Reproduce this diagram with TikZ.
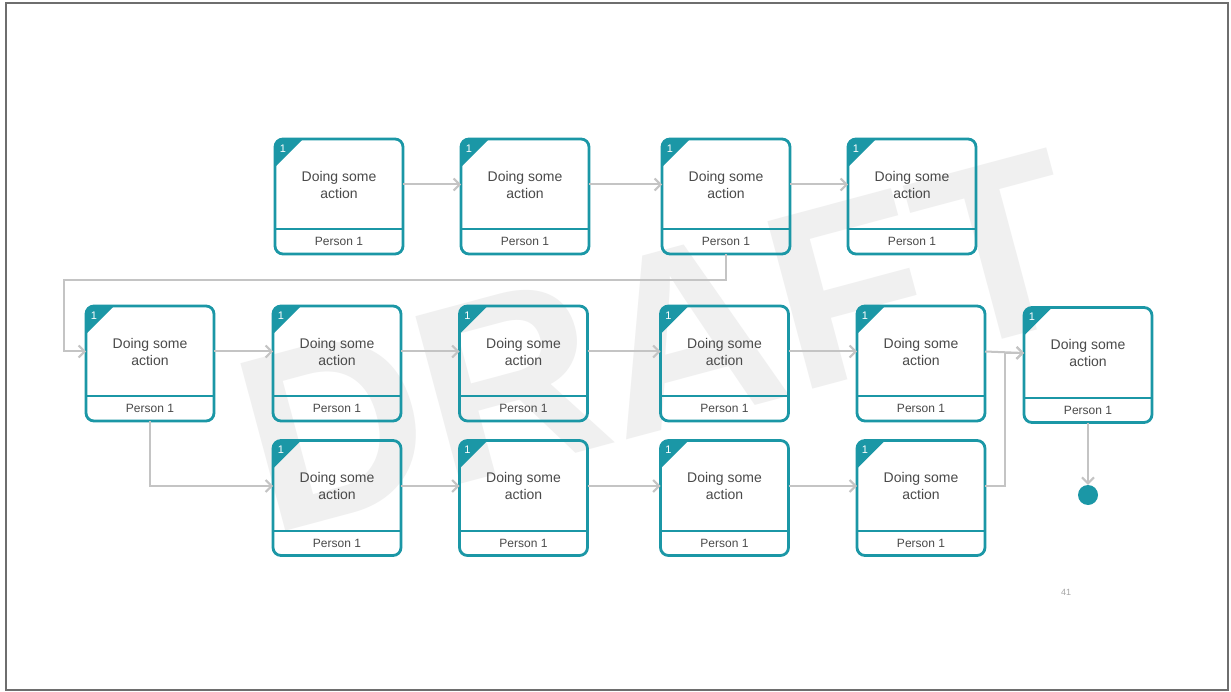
\documentclass[tikz,border=0pt]{standalone}
\usepackage{fontspec}
\setmainfont{Liberation Sans}
\usetikzlibrary{arrows.meta,calc}

\definecolor{acttl}{HTML}{1B97A6}
\definecolor{flowgray}{HTML}{C4C4C4}
\definecolor{textgray}{HTML}{4A4A4A}
\definecolor{framegray}{HTML}{6E6E6E}
\definecolor{wmgray}{HTML}{F0F0F0}

\tikzset{
  x=1pt, y=-1pt,
  boxframe/.style={draw=acttl, line width=2.8pt, rounded corners=8pt,
    minimum width=128pt, minimum height=115pt, inner sep=0pt},
  divider/.style={draw=acttl, line width=2pt},
  cornernum/.style={text=white, font=\fontsize{11}{11}\selectfont, inner sep=0pt},
  actlabel/.style={align=center, text=textgray, font=\fontsize{14}{17}\selectfont, inner sep=0pt},
  personlabel/.style={text=textgray, font=\fontsize{12}{12}\selectfont, inner sep=0pt},
  flow/.style={draw=flowgray, line width=2pt, -{Straight Barb[length=6pt,width=12pt]}},
  endnode/.style={circle, fill=acttl, minimum size=20pt, inner sep=0pt},
  actbox/.pic={
    \begin{scope}
      \clip[rounded corners=8pt] (-64,-57.5) rectangle (64,57.5);
      \fill[acttl] (-64,-57.5) -- (-36,-57.5) -- (-64,-29.5) -- cycle;
    \end{scope}
    \node[boxframe] (-box) at (0,0) {};
    \draw[divider] (-64,32.5) -- (64,32.5);
    \node[cornernum] (-num) at (-56,-48) {1};
    \node[actlabel] (-txt) at (0,-12) {Doing some\\action};
    \node[personlabel] (-who) at (0,45) {Person 1};
    \coordinate (-w) at (-64,-12);
    \coordinate (-e) at (64,-12);
    \coordinate (-s) at (0,57.5);
  }
}

\begin{document}
\begin{tikzpicture}
\useasboundingbox (0,0) rectangle (1231,692);
\fill[white] (0,0) rectangle (1231,692);

% watermark
\node[rotate=15, text=wmgray, inner sep=0pt,
      font=\fontsize{252}{252}\selectfont\bfseries] (wm) at (659,341) {DRAFT};

% page frame
\draw[framegray, line width=2pt] (6,3.5) rectangle (1228,690);

% first row
\pic (r1c1) at (339,196.5) {actbox};
\pic (r1c2) at (525,196.5) {actbox};
\pic (r1c3) at (726,196.5) {actbox};
\pic (r1c4) at (912,196.5) {actbox};

% second row
\pic (r2c1) at (150,363.5) {actbox};
\pic (r2c2) at (337,363.5) {actbox};
\pic (r2c3) at (523.5,363.5) {actbox};
\pic (r2c4) at (724.5,363.5) {actbox};
\pic (r2c5) at (921,363.5) {actbox};

% final step
\pic (fin) at (1088,365) {actbox};

% third row
\pic (r3c1) at (337,498) {actbox};
\pic (r3c2) at (523.5,498) {actbox};
\pic (r3c3) at (724.5,498) {actbox};
\pic (r3c4) at (921,498) {actbox};

% end marker and page number
\node[endnode] (end) at (1088,495) {};
\node[text=gray!70, font=\fontsize{9}{9}\selectfont] (pageno) at (1066,592) {41};

% routing helpers
\coordinate (loopcorner) at (64,280);
\coordinate (merge) at (1005,0);

% connectors
\draw[flow] (r1c1-e) -- (r1c2-w);
\draw[flow] (r1c2-e) -- (r1c3-w);
\draw[flow] (r1c3-e) -- (r1c4-w);
\draw[flow] (r1c3-s) -- (r1c3-s |- loopcorner) -- (loopcorner) |- (r2c1-w);

\draw[flow] (r2c1-e) -- (r2c2-w);
\draw[flow] (r2c2-e) -- (r2c3-w);
\draw[flow] (r2c3-e) -- (r2c4-w);
\draw[flow] (r2c4-e) -- (r2c5-w);
\draw[flow] (r2c5-e) -- (fin-w);

\draw[flow] (r2c1-s) |- (r3c1-w);
\draw[flow] (r3c1-e) -- (r3c2-w);
\draw[flow] (r3c2-e) -- (r3c3-w);
\draw[flow] (r3c3-e) -- (r3c4-w);
\draw[flow] (r3c4-e) -- (r3c4-e -| merge) |- (fin-w);

\draw[flow] (fin-s) -- (end.north);
\end{tikzpicture}
\end{document}
